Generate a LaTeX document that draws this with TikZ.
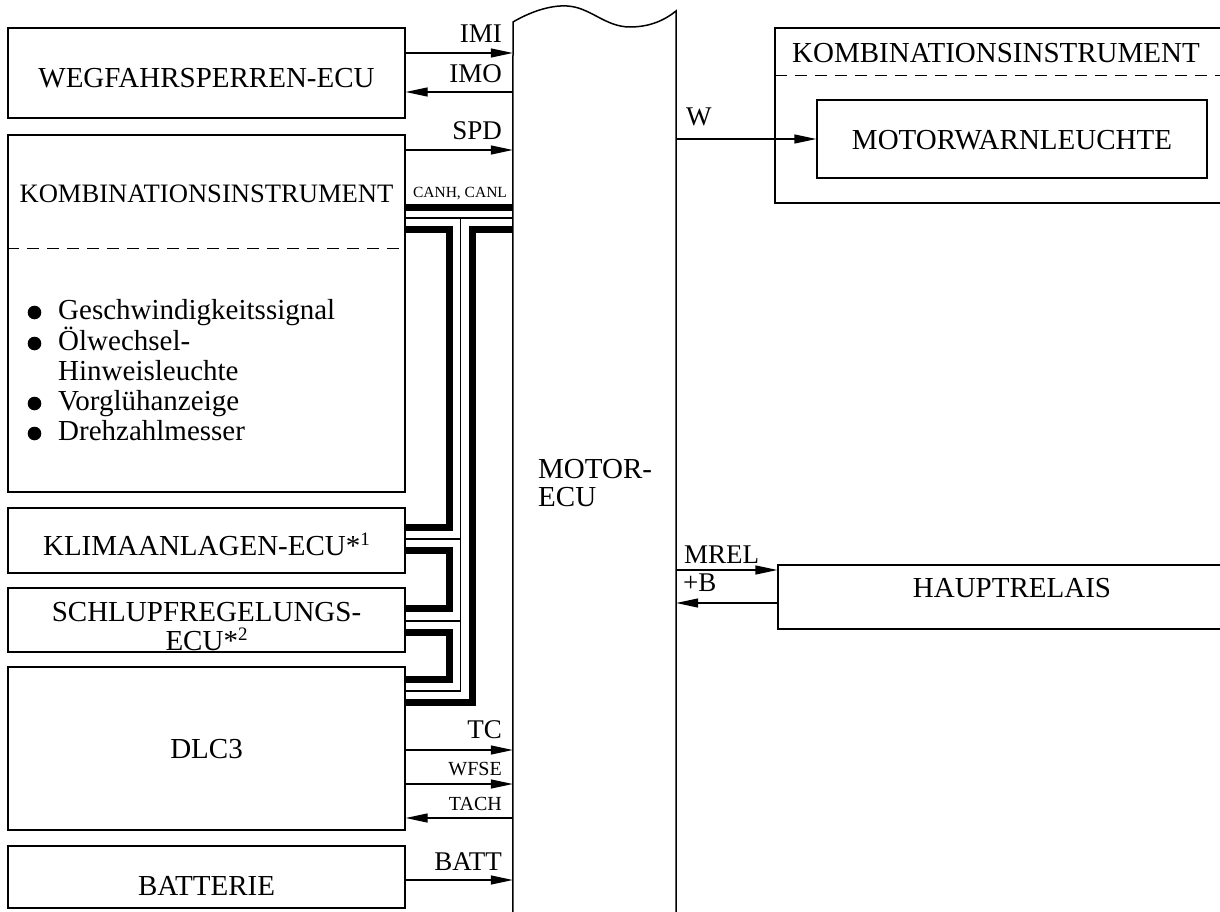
\documentclass[tikz,border=0pt]{standalone}
\usepackage{fontspec}
\setmainfont{Liberation Serif}
\usetikzlibrary{arrows.meta}
\newcommand{\supnum}[1]{\raisebox{0.33em}{\fontsize{19}{20}\selectfont#1}}

\begin{document}
\begin{tikzpicture}[x=1pt,y=-1pt,line join=miter,
  unit/.style={draw,line width=1.3pt,inner sep=0pt},
  txt/.style={inner sep=0pt,anchor=base,font=\fontsize{29}{31}\selectfont},
  lbl/.style={inner sep=0pt,font=\fontsize{27}{29}\selectfont},
  small/.style={inner sep=0pt,font=\fontsize{20}{22}\selectfont},
  tiny/.style={inner sep=0pt,font=\fontsize{15.5}{17}\selectfont},
  sig/.style={line width=1.3pt,-{Triangle[length=22pt,width=9pt]}},
  bus/.style={line width=7pt},
  thinbus/.style={line width=1.4pt},
  sep/.style={line width=1pt,dash pattern=on 12pt off 8pt}]
\useasboundingbox (0,0) rectangle (1220,912);
\node[unit,minimum width=397pt,minimum height=90pt] (weg) at (206.5,73) {};
\node[txt] (wegname) at (206.5,88) {WEGFAHRSPERREN-ECU};
\node[unit,minimum width=397pt,minimum height=357pt] (kombi) at (206.5,313.5) {};
\node[txt,font=\fontsize{26.6}{28}\selectfont] (kombiname) at (206.5,203) {KOMBINATIONSINSTRUMENT};
\draw[sep] (kombi.west |- 0,248) -- (kombi.east |- 0,248);
\foreach \t/\yy/\dot [count=\i] in {Geschwindigkeitssignal/319/1,Ölwechsel-/350/1,
  Hinweisleuchte/380/0,Vorglühanzeige/410/1,Drehzahlmesser/440/1}
{
  \node[txt,anchor=base west] (item\i) at (58,\yy) {\t};
  \ifnum\dot=1 \fill (34.5,\yy-6.5) circle (6.8pt); \fi
}
\node[unit,minimum width=397pt,minimum height=65pt] (klima) at (206.5,540.5) {};
\node[txt] (klimaname) at (206.5,555) {KLIMAANLAGEN-ECU*\supnum{1}};
\node[unit,minimum width=397pt,minimum height=64pt] (schlupf) at (206.5,620) {};
\node[txt] (schlupfname1) at (206.5,621) {SCHLUPFREGELUNGS-};
\node[txt] (schlupfname2) at (206.5,650) {ECU*\supnum{2}};
\node[unit,minimum width=397pt,minimum height=163pt] (dlc) at (206.5,748.5) {};
\node[txt] (dlcname) at (206.5,758) {DLC3};
\node[unit,minimum width=397pt,minimum height=62pt] (batt) at (206.5,877) {};
\node[txt] (battname) at (206.5,895) {BATTERIE};
\node[inner sep=0pt,minimum width=163pt,minimum height=892pt] (ecu) at (594.5,466) {};
\draw[line width=1.5pt] (ecu.south west) -- (513,22) .. controls (530,12) and (550,5) .. (567,6)
  .. controls (590,7) and (605,27) .. (630,27) .. controls (650,27) and (665,20) .. (676,11)
  -- (ecu.south east);
\node[txt,anchor=base west] (ecuname1) at (538,478) {MOTOR-};
\node[txt,anchor=base west] (ecuname2) at (538,506) {ECU};
\draw[sig] (weg.east |- 0,53) -- (ecu.west |- 0,53);
\node[lbl,anchor=base east] (imi) at (502,43) {IMI};
\draw[sig] (ecu.west |- 0,92) -- (weg.east |- 0,92);
\node[lbl,anchor=base east] (imo) at (502,83) {IMO};
\draw[sig] (kombi.east |- 0,150) -- (ecu.west |- 0,150);
\node[lbl,anchor=base east] (spd) at (502,140) {SPD};
\node[tiny,anchor=base] (can) at (460,197) {CANH, CANL};
\draw[bus] (kombi.east |- 0,207.5) -- (ecu.west |- 0,207.5);
\draw[thinbus] (kombi.east |- 0,218) -- (ecu.west |- 0,218);
\draw[bus] (kombi.east |- 0,229.5) -- (449.5,229.5) -- (449.5,527) -- (klima.east |- 0,527);
\draw[bus] (ecu.west |- 0,229.5) -- (472,229.5) -- (472,702) -- (dlc.east |- 0,702);
\draw[thinbus] (460.7,218) -- (460.7,691);
\draw[thinbus] (460.7,539) -- (klima.east |- 0,539);
\draw[thinbus] (460.7,621) -- (schlupf.east |- 0,621);
\draw[thinbus] (460.7,691) -- (dlc.east |- 0,691);
\draw[bus] (klima.east |- 0,550.5) -- (449.5,550.5) -- (449.5,608.5) -- (schlupf.east |- 0,608.5);
\draw[bus] (schlupf.east |- 0,632) -- (449.5,632) -- (449.5,679.5) -- (dlc.east |- 0,679.5);
\draw[sig] (dlc.east |- 0,750) -- (ecu.west |- 0,750);
\node[lbl,anchor=base east] (tc) at (502,738) {TC};
\draw[sig] (dlc.east |- 0,784) -- (ecu.west |- 0,784);
\node[small,anchor=base east] (wfse) at (502,775) {WFSE};
\draw[sig] (ecu.west |- 0,818) -- (dlc.east |- 0,818);
\node[small,anchor=base east] (tach) at (502,810) {TACH};
\draw[sig] (batt.east |- 0,880) -- (ecu.west |- 0,880);
\node[lbl,anchor=base east] (batt-l) at (502,870) {BATT};
\draw[line width=1.3pt] (1222,28) -- (775,28) -- (775,203) -- (1222,203);
\node[txt] (kombiname2) at (996,63) {KOMBINATIONSINSTRUMENT};
\draw[sep] (775,76) -- (1222,76);
\node[unit,minimum width=390pt,minimum height=78pt] (mwl) at (1012,139) {};
\node[txt] (mwlname) at (1012,150) {MOTORWARNLEUCHTE};
\draw[sig] (ecu.east |- mwl.west) -- (mwl.west);
\node[lbl,anchor=base west] (w) at (686,126) {W};
\node[unit,minimum width=468pt,minimum height=64pt] (hr) at (1012,597) {};
\node[txt] (hrname) at (1012,597) {HAUPTRELAIS};
\draw[sig] (ecu.east |- 0,570) -- (hr.west |- 0,570);
\node[lbl,anchor=base west] (mrel) at (684,563) {MREL};
\draw[sig] (hr.west |- 0,603) -- (ecu.east |- 0,603);
\node[lbl,anchor=base west] (plusb) at (683,591) {+B};
\end{tikzpicture}
\end{document}
